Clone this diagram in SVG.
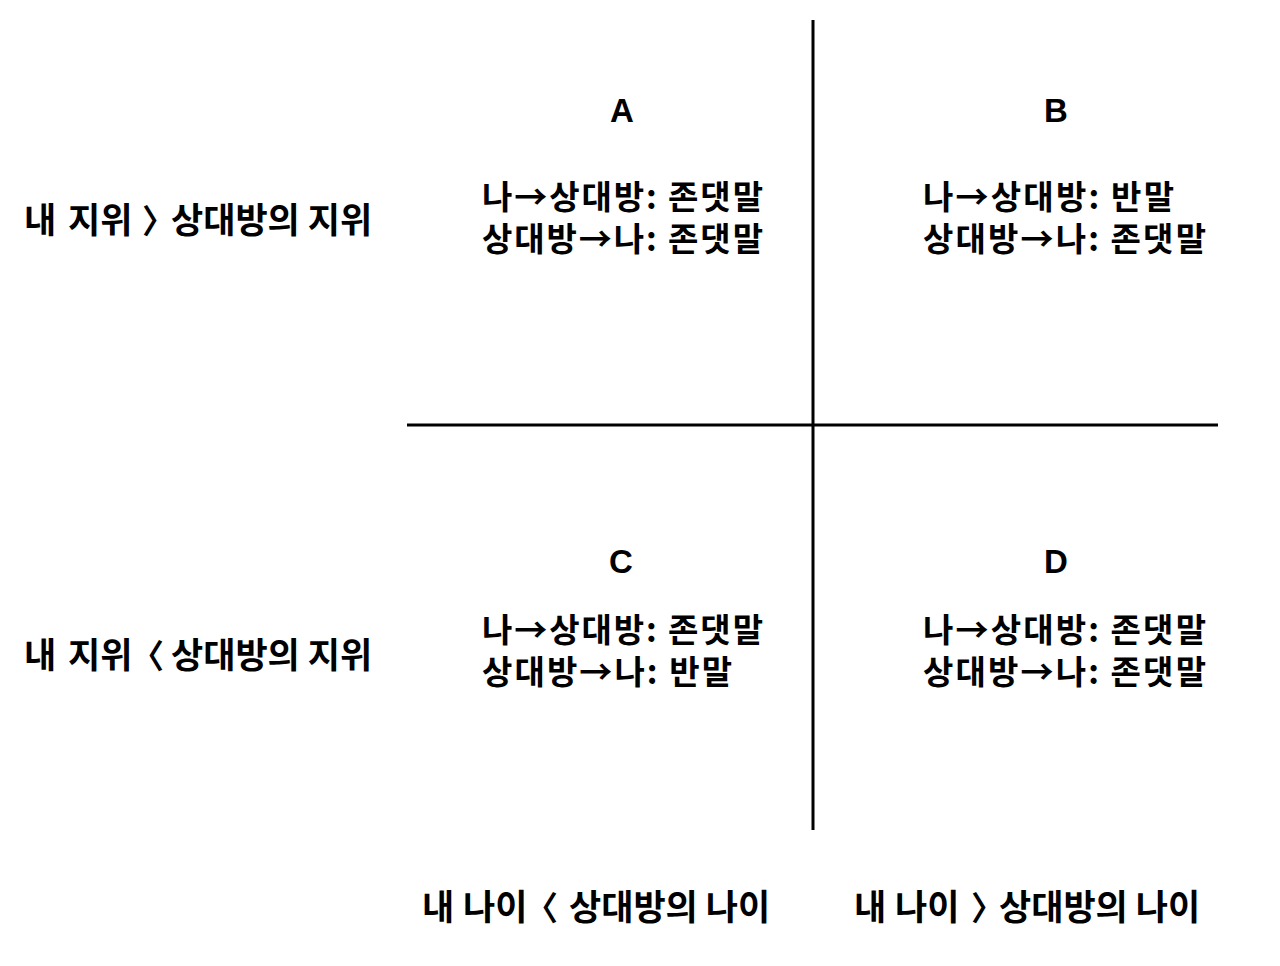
<svg xmlns="http://www.w3.org/2000/svg" width="1280" height="966" viewBox="0 0 1280 966">
<style>
text{font-family:"Noto Sans CJK KR",sans-serif;font-weight:bold;fill:#000;font-size:33px}
.h{font-family:"Liberation Sans",Arial,sans-serif;text-anchor:middle;font-size:33px}
.l{font-size:35px}
.ax{stroke:#000;stroke-width:3;fill:none}
</style>
<rect width="1280" height="966" fill="#fff"/>
<g id="connectors">
<line class="ax" x1="813" y1="20" x2="813" y2="830"/>
<line class="ax" x1="407" y1="425" x2="1218" y2="425"/>
</g>
<g id="A">
<text class="h" x="622" y="122">A</text>
<text x="482" y="209" textLength="281">나→상대방: 존댓말</text>
<text x="482" y="251" textLength="281">상대방→나: 존댓말</text>
</g>
<g id="B">
<text class="h" x="1056" y="122">B</text>
<text x="923" y="209" textLength="251">나→상대방: 반말</text>
<text x="923" y="251" textLength="283">상대방→나: 존댓말</text>
</g>
<g id="C">
<text class="h" x="621" y="573">C</text>
<text x="482" y="642" textLength="281">나→상대방: 존댓말</text>
<text x="482" y="684" textLength="250">상대방→나: 반말</text>
</g>
<g id="D">
<text class="h" x="1056" y="573">D</text>
<text x="923" y="642" textLength="283">나→상대방: 존댓말</text>
<text x="923" y="684" textLength="283">상대방→나: 존댓말</text>
</g>
<g id="row1">
<text class="l" y="233"><tspan x="24">내</tspan><tspan x="68">지위</tspan></text>
<text x="142" y="233">〉</text>
<text class="l" x="171" y="233">상대방의 지위</text>
</g>
<g id="row2">
<text class="l" y="668"><tspan x="24">내</tspan><tspan x="68">지위</tspan></text>
<text x="131" y="668">〈</text>
<text class="l" x="171" y="668">상대방의 지위</text>
</g>
<g id="col1">
<text class="l" y="920"><tspan x="422">내</tspan><tspan x="463">나이</tspan></text>
<text x="525" y="920">〈</text>
<text class="l" x="569" y="920">상대방의 나이</text>
</g>
<g id="col2">
<text class="l" y="920"><tspan x="854">내</tspan><tspan x="895">나이</tspan></text>
<text x="971" y="920">〉</text>
<text class="l" x="999" y="920">상대방의 나이</text>
</g>
</svg>
